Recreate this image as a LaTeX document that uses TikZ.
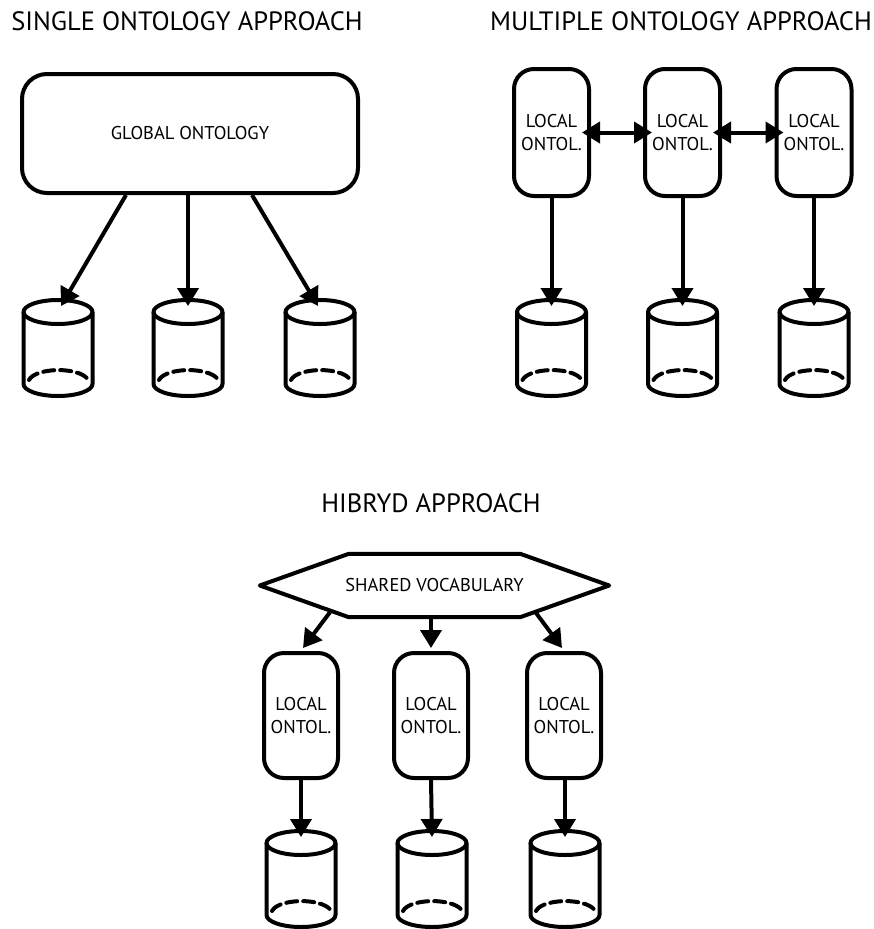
\documentclass[tikz,border=0pt]{standalone}
\usepackage{fontspec}
\setmainfont{PT Sans}
\usetikzlibrary{arrows.meta}

\begin{document}
\begin{tikzpicture}[
  x=1pt, y=-1pt,
  line/.style={line width=4pt, line join=round},
  arr/.style={line width=4pt, -{Triangle[length=18pt,width=21pt]}},
  darr/.style={line width=4pt, {Triangle[length=18pt,width=21pt]}-{Triangle[length=18pt,width=21pt]}},
  title/.style={font=\fontsize{26.5}{30}\selectfont, inner sep=0pt},
  label/.style={font=\fontsize{18.5}{23}\selectfont, align=center},
  globalbox/.style={line, draw, rounded corners=25pt, minimum width=336pt, minimum height=119pt, label},
  localbox/.style={line, draw, rounded corners=20pt, minimum width=74pt, minimum height=125pt, inner sep=0pt, label},
  db/.pic={
    % database cylinder: sides, front rim, top lid and hidden back rim
    \draw[line] (-34.5,0) -- (-34.5,72)
      arc[start angle=180, end angle=0, x radius=34.5, y radius=12]
      -- (34.5,0);
    \draw[line] (0,0) ellipse[x radius=34.5, y radius=12];
    \draw[line, dash pattern=on 11pt off 6pt, line cap=round] (-29,68)
      arc[start angle=190, end angle=350, x radius=30, y radius=12];
    \coordinate (-top) at (0,-6);
  }
]
\useasboundingbox (0,0) rectangle (874,929);

% ---------- single ontology ----------
\node[title] (t1) at (187,21) {SINGLE ONTOLOGY APPROACH};
\node[globalbox] (g) at (190,133.5) {GLOBAL ONTOLOGY};
\pic (c1) at (58,312) {db};
\pic (c2) at (188,312) {db};
\pic (c3) at (320,312) {db};
\draw[arr] ([xshift=-64pt]g.south) -- ([xshift=3pt]c1-top);
\draw[arr] (g.south -| c2-top) -- (c2-top);
\draw[arr] ([xshift=62pt]g.south) -- ([xshift=-2pt]c3-top);

% ---------- multiple ontology ----------
\node[title] (t2) at (681,21) {MULTIPLE ONTOLOGY APPROACH};
\node[localbox, minimum height=127pt, minimum width=75pt] (m1) at (551.5,132.5) {LOCAL\\ONTOL.};
\node[localbox, minimum height=127pt, minimum width=75pt] (m2) at (682.5,132.5) {LOCAL\\ONTOL.};
\node[localbox, minimum height=127pt, minimum width=75pt] (m3) at (814,132.5) {LOCAL\\ONTOL.};
\draw[darr] ([xshift=-9pt]m1.east) -- ([xshift=9pt]m2.west);
\draw[darr] ([xshift=-9pt]m2.east) -- ([xshift=9pt]m3.west);
\pic (c4) at (551.5,312) {db};
\pic (c5) at (682.5,312) {db};
\pic (c6) at (814,312) {db};
\draw[arr] (m1.south) -- (c4-top);
\draw[arr] (m2.south) -- (c5-top);
\draw[arr] (m3.south) -- (c6-top);

% ---------- hybrid ----------
\node[title] (t3) at (431,503) {HIBRYD APPROACH};
\node[label, minimum width=349pt, minimum height=63pt, inner sep=0pt] (sv) at (434.5,585.5) {SHARED VOCABULARY};
\draw[line] (sv.west) -- ([xshift=89pt]sv.north west) -- ([xshift=-89pt]sv.north east)
  -- (sv.east) -- ([xshift=-89pt]sv.south east) -- ([xshift=89pt]sv.south west) -- cycle;
\node[localbox] (h1) at (301,715.5) {LOCAL\\ONTOL.};
\node[localbox] (h2) at (431,715.5) {LOCAL\\ONTOL.};
\node[localbox] (h3) at (564,715.5) {LOCAL\\ONTOL.};
\draw[arr] ([xshift=-104.5pt,yshift=5pt]sv.south) -- ([xshift=2pt,yshift=3pt]h1.north);
\draw[arr] (sv.south -| h2.north) -- ([yshift=3pt]h2.north);
\draw[arr] ([xshift=101pt,yshift=5pt]sv.south) -- ([xshift=-2pt,yshift=3pt]h3.north);
\pic (c7) at (301,843) {db};
\pic (c8) at (432,843) {db};
\pic (c9) at (565,843) {db};
\draw[arr] (h1.south) -- (h1.south -| c7-top) -- (c7-top);
\draw[arr] (h2.south) -- (c8-top);
\draw[arr] (h3.south) -- (h3.south -| c9-top) -- (c9-top);
\end{tikzpicture}
\end{document}
